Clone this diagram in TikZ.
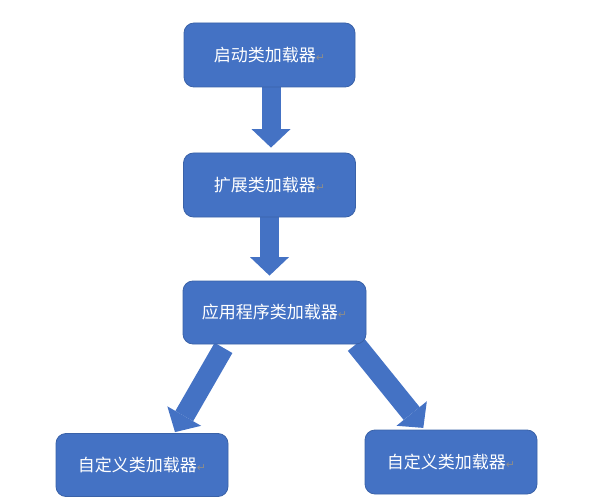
\documentclass[tikz,border=0pt]{standalone}
\usepackage{fontspec}
\usepackage{xcolor}
\usepackage{tikz}
\usetikzlibrary{arrows.meta,backgrounds}
\newfontfamily\cjkfont{Noto Sans CJK SC}
\newfontfamily\markfont{DejaVu Sans}
\definecolor{boxblue}{HTML}{4472C4}
\definecolor{edgeblue}{HTML}{3A62A8}
\definecolor{markgray}{HTML}{8C8C8C}
\newcommand{\parmark}{{\markfont\fontsize{11pt}{11pt}\selectfont\textcolor{markgray}{↵}}}

\begin{document}
\begin{tikzpicture}[x=1pt,y=-1pt,
    loader/.style={draw=edgeblue,line width=0.8pt,fill=boxblue,rounded corners=10pt,
        text=white,font=\cjkfont\fontsize{17pt}{20pt}\selectfont,minimum height=64pt,inner sep=0pt},
    blockarrow/.style={boxblue,line width=19pt,-{Triangle[width=39pt,length=18.5pt,line width=0pt]}}]
    \useasboundingbox (0,0) rectangle (589,500);

    \node[loader,minimum width=171pt] (boot) at (269.5,55) {启动类加载器\parmark};
    \node[loader,minimum width=172pt] (ext) at (269.5,185) {扩展类加载器\parmark};
    \node[loader,minimum width=183pt,minimum height=63pt] (app) at (274.5,312.5) {应用程序类加载器\parmark};
    \node[loader,minimum width=172pt,minimum height=63pt] (custA) at (142,465) {自定义类加载器\parmark};
    \node[loader,minimum width=172pt] (custB) at (451,462) {自定义类加载器\parmark};

    % Block arrows
    \begin{scope}[on background layer]
    \draw[blockarrow] ([xshift=1.5pt]boot.south) -- ([xshift=1.5pt,yshift=5pt]ext.north);
    \draw[blockarrow] (ext.south) -- ([xshift=-5pt,yshift=5pt]app.north);
    \draw[blockarrow,line width=20.5pt] ([xshift=-51pt,yshift=-3.5pt]app.south) -- ([xshift=33pt,yshift=1pt]custA.north);
    \draw[blockarrow,line width=20.5pt] ([xshift=81.3pt]app.south) -- ([xshift=-27.7pt,yshift=1.7pt]custB.north);
    \end{scope}
\end{tikzpicture}
\end{document}
